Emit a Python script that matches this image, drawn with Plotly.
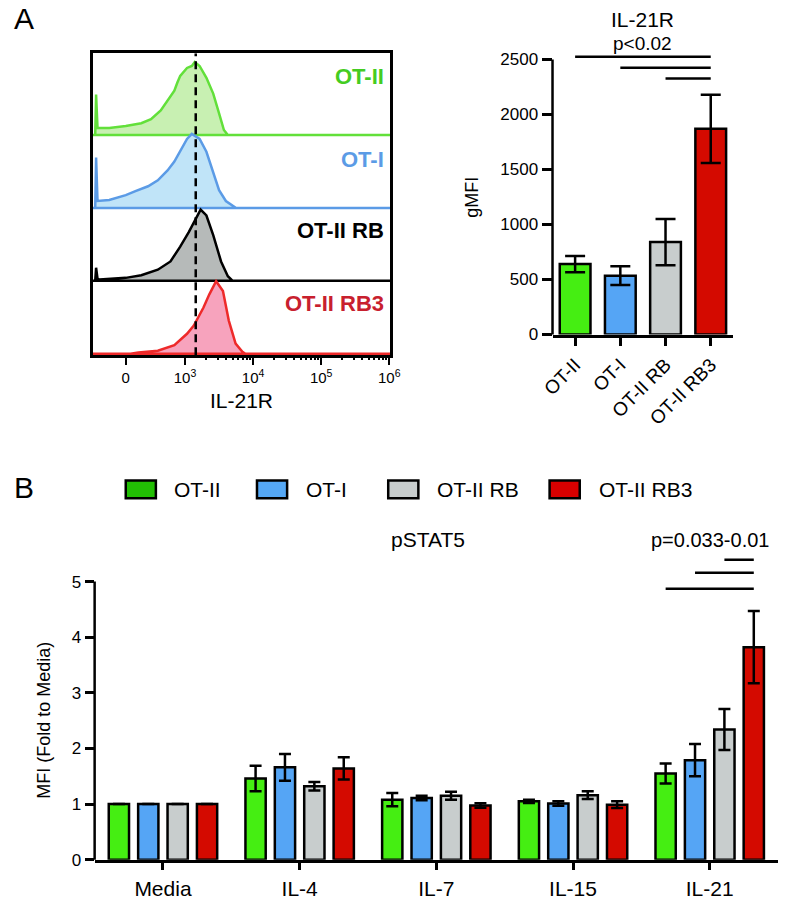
import math
import plotly.graph_objects as go

# ---------------- DATA ----------------
groups = ["OT-II", "OT-I", "OT-II RB", "OT-II RB3"]

# Panel A histograms: x in display units of the biexponential IL-21R axis
# (10^3 -> 3, 10^4 -> 4 ...), h = normalised cell count (peak ~ 1)
hist_otii_x = [1.68, 1.693, 1.714, 1.886, 2.129, 2.357, 2.5, 2.643, 2.743, 2.843, 2.886,
               2.929, 3.029, 3.1, 3.143, 3.214, 3.314, 3.414, 3.5, 3.571, 3.629]
hist_otii_h = [0, 0.554, 0.095, 0.095, 0.122, 0.162, 0.216, 0.338, 0.473, 0.608, 0.716,
               0.811, 0.919, 0.946, 1.0, 0.946, 0.784, 0.568, 0.297, 0.068, 0]
hist_oti_x = [1.68, 1.693, 1.714, 1.886, 2.129, 2.271, 2.457, 2.6, 2.743, 2.843, 2.929,
              3.029, 3.1, 3.143, 3.214, 3.314, 3.414, 3.5, 3.6, 3.7, 3.75]
hist_oti_h = [0, 0.69, 0.095, 0.108, 0.176, 0.23, 0.297, 0.378, 0.514, 0.635, 0.784,
              0.946, 1.014, 0.986, 0.946, 0.77, 0.5, 0.243, 0.095, 0.027, 0]
hist_rb_x = [1.68, 1.693, 1.714, 1.743, 2.129, 2.357, 2.6, 2.786, 2.929, 3.057, 3.143,
             3.229, 3.314, 3.414, 3.529, 3.629, 3.7]
hist_rb_h = [0, 0.18, 0.03, 0.018, 0.041, 0.077, 0.153, 0.266, 0.469, 0.672, 0.815,
             0.977, 0.896, 0.626, 0.266, 0.064, 0]
hist_rb3_x = [2.2, 2.314, 2.6, 2.843, 3.029, 3.129, 3.271, 3.357, 3.457, 3.557, 3.643,
              3.743, 3.843, 3.886]
hist_rb3_h = [0, 0.018, 0.041, 0.118, 0.274, 0.388, 0.635, 0.815, 0.995, 0.861, 0.455,
              0.139, 0.027, 0]
hist_ref_line = 3.157          # dashed reference (OT-II peak)
hist_tick_vals = [2.129, 3, 4, 5, 6]
hist_tick_text = ["0", "10<sup>3</sup>", "10<sup>4</sup>", "10<sup>5</sup>", "10<sup>6</sup>"]
hist_range = [1.643, 6.014]

# Panel A bar chart: IL-21R gMFI
il21r_gmfi = [640, 535, 840, 1870]
il21r_err = [73, 85, 210, 310]
il21r_sig_levels = [2525, 2426, 2328]      # OT-II, OT-I, OT-II RB vs OT-II RB3
il21r_ticks = [0, 500, 1000, 1500, 2000, 2500]

# Panel B: pSTAT5 (fold to media)
stimuli = ["Media", "IL-4", "IL-7", "IL-15", "IL-21"]
pstat5_otii = [1.0, 1.46, 1.08, 1.05, 1.55]
pstat5_oti = [1.0, 1.66, 1.11, 1.01, 1.79]
pstat5_rb = [1.0, 1.32, 1.15, 1.16, 2.34]
pstat5_rb3 = [1.0, 1.64, 0.975, 0.99, 3.82]
pstat5_err_otii = [0, 0.23, 0.12, 0.03, 0.18]
pstat5_err_oti = [0, 0.24, 0.04, 0.04, 0.29]
pstat5_err_rb = [0, 0.075, 0.07, 0.07, 0.37]
pstat5_err_rb3 = [0, 0.2, 0.04, 0.06, 0.65]
pstat5_sig_levels = [4.87, 5.16, 5.39]     # OT-II, OT-I, OT-II RB vs OT-II RB3 (IL-21)
pstat5_ticks = [0, 1, 2, 3, 4, 5]

# ---------------- STYLE ----------------
W, H = 790, 901
FONT = "Liberation Sans, Arial, Helvetica, sans-serif"
bar_colors = ["#45ee12", "#55a5f5", "#c8cdcd", "#d40a00"]
legend_colors = ["#22bf04", "#55a8f5", "#c8cdcd", "#d80000"]
hist_line = ["#62e03a", "#5b9be6", "#000000", "#ee2a2a"]
hist_fill = ["#c8f0b2", "#c0e4f8", "#b6bab9", "#f7a3bd"]
hist_label_col = ["#44cc22", "#5b9be6", "#000000", "#c8202e"]
LW = 2.5


def px_x(p):
    return p / W


def px_y(p):
    return 1 - p / H


fig = go.Figure()

# ---- Panel A histograms ----
hist_x = [hist_otii_x, hist_oti_x, hist_rb_x, hist_rb3_x]
hist_h = [hist_otii_h, hist_oti_h, hist_rb_h, hist_rb3_h]
baselines = [3, 2, 1, 0]
label_levels = [3.8, 2.67, 1.69, 0.69]
for i in range(4):
    b = baselines[i]
    xs = [hist_range[0]] + hist_x[i] + [hist_range[1], hist_range[0]]
    ys = [b] + [b + v for v in hist_h[i]] + [b, b]
    fig.add_trace(go.Scatter(x=xs, y=ys, mode="lines", fill="toself",
                             fillcolor=hist_fill[i],
                             line=dict(color=hist_line[i], width=LW),
                             xaxis="x", yaxis="y", showlegend=False, hoverinfo="skip"))

hy_range = [-0.02, 4.12]
fig.add_trace(go.Scatter(x=[hist_ref_line, hist_ref_line], y=hy_range, mode="lines",
                         line=dict(color="black", width=2.5, dash="8px,5px"),
                         xaxis="x", yaxis="y", showlegend=False, hoverinfo="skip"))
# dummy trace for minor-tick overlay axis
fig.add_trace(go.Scatter(x=[hist_range[0]], y=[hy_range[0]], mode="markers",
                         marker=dict(opacity=0), xaxis="x4", yaxis="y",
                         showlegend=False, hoverinfo="skip"))

minor_ticks = [math.log10(k * 10 ** n) for n in (3, 4, 5) for k in range(2, 10)]

# ---- Panel A bar chart ----
fig.add_trace(go.Bar(x=groups, y=il21r_gmfi, width=0.68,
                     marker=dict(color=bar_colors, line=dict(color="black", width=LW)),
                     error_y=dict(type="data", array=il21r_err, color="black",
                                  thickness=2.5, width=10),
                     xaxis="x2", yaxis="y2", showlegend=False))

# ---- Panel B grouped bars ----
pstat5_vals = [pstat5_otii, pstat5_oti, pstat5_rb, pstat5_rb3]
pstat5_errs = [pstat5_err_otii, pstat5_err_oti, pstat5_err_rb, pstat5_err_rb3]
for k in range(4):
    fig.add_trace(go.Bar(x=stimuli, y=pstat5_vals[k], name=groups[k],
                         marker=dict(color=bar_colors[k], line=dict(color="black", width=LW)),
                         error_y=dict(type="data", array=pstat5_errs[k], color="black",
                                      thickness=2.5, width=6),
                         xaxis="x3", yaxis="y3", showlegend=False))

BARGAP = 0.14

# ---- domains ----
hx_dom = [px_x(83), px_x(389)]
hy_dom = [px_y(358), px_y(52)]
tx_dom = [px_x(556), px_x(742)]
ty_range = [0, 2560]
ty_dom = [px_y(337), px_y(51.6)]
ty_line_dom = [ty_dom[0], ty_dom[0] + (il21r_ticks[-1] / ty_range[1]) * (ty_dom[1] - ty_dom[0])]
bx_dom = [px_x(85), px_x(788)]
by_range = [0, 5.45]
by_dom = [px_y(869.3), px_y(562)]
by_line_dom = [by_dom[0], by_dom[0] + (pstat5_ticks[-1] / by_range[1]) * (by_dom[1] - by_dom[0])]

axis_common = dict(showgrid=False, zeroline=False, color="black")

layout = dict(
    width=W, height=H, margin=dict(l=0, r=0, t=0, b=0),
    paper_bgcolor="white", plot_bgcolor="rgba(0,0,0,0)",
    font=dict(family=FONT, color="black"),
    barmode="group", bargap=BARGAP, bargroupgap=0.31,
    showlegend=False,
    xaxis=dict(domain=hx_dom, range=hist_range, anchor="y", tickmode="array",
               tickvals=hist_tick_vals, ticktext=hist_tick_text, ticks="outside",
               ticklen=7, tickwidth=2, tickcolor="black", showline=True, mirror=True,
               linewidth=LW, linecolor="black", tickfont=dict(size=15), **axis_common),
    xaxis4=dict(domain=hx_dom, range=hist_range, anchor="y", overlaying="x",
                tickmode="array", tickvals=minor_ticks, ticks="outside", ticklen=4,
                tickwidth=1.5, tickcolor="black", showticklabels=False, showline=False,
                **axis_common),
    yaxis=dict(domain=hy_dom, range=hy_range, anchor="x", showticklabels=False, ticks="",
               showline=True, mirror=True, linewidth=LW, linecolor="black", **axis_common),
    xaxis2=dict(domain=tx_dom, anchor="y2", type="category",
                ticks="outside", ticklen=9, tickwidth=LW, tickcolor="black",
                tickangle=-45, tickfont=dict(size=19), showline=True, linewidth=LW,
                linecolor="black", **axis_common),
    yaxis2=dict(domain=ty_dom, anchor="x2", range=ty_range, tickmode="array",
                tickvals=il21r_ticks, ticks="outside", ticklen=10, tickwidth=LW,
                tickcolor="black", tickfont=dict(size=17), showline=False, **axis_common),
    xaxis3=dict(domain=bx_dom, anchor="y3", type="category",
                ticks="outside", ticklen=8, tickwidth=LW, tickcolor="black",
                tickfont=dict(size=21), showline=True, linewidth=LW, linecolor="black",
                **axis_common),
    yaxis3=dict(domain=by_dom, anchor="x3", range=by_range, tickmode="array",
                tickvals=pstat5_ticks, ticks="outside", ticklen=9, tickwidth=LW,
                tickcolor="black", tickfont=dict(size=17), showline=False, **axis_common),
)

shapes = []
# y-axis lines that stop at the top tick
shapes.append(dict(type="line", xref="x2 domain", yref="paper", x0=0, x1=0,
                   y0=ty_line_dom[0], y1=ty_line_dom[1], line=dict(color="black", width=LW)))
shapes.append(dict(type="line", xref="x3 domain", yref="paper", x0=0, x1=0,
                   y0=by_line_dom[0], y1=by_line_dom[1], line=dict(color="black", width=LW)))
# significance bars, panel A
for i, lvl in enumerate(il21r_sig_levels):
    shapes.append(dict(type="line", xref="x2", yref="y2", x0=i, x1=3, y0=lvl, y1=lvl,
                       line=dict(color="black", width=LW)))
# significance bars, panel B (bar centres within the IL-21 group)
slot = (1 - BARGAP) / 4


def bar_center(cat, k):
    return cat - (1 - BARGAP) / 2 + (k + 0.5) * slot


il21_idx = stimuli.index("IL-21")
for k, lvl in enumerate(pstat5_sig_levels):
    shapes.append(dict(type="line", xref="x3", yref="y3",
                       x0=bar_center(il21_idx, k), x1=bar_center(il21_idx, 3),
                       y0=lvl, y1=lvl, line=dict(color="black", width=LW)))

annotations = []
# custom legend for panel B
leg_box_x = [117, 252, 387, 553]
leg_txt_x = [165, 300, 435, 602]
for k in range(4):
    shapes.append(dict(type="rect", xref="paper", yref="paper",
                       x0=px_x(leg_box_x[k]), x1=px_x(leg_box_x[k] + 31),
                       y0=px_y(503), y1=px_y(485), fillcolor=legend_colors[k],
                       line=dict(color="black", width=LW)))
    annotations.append(dict(text=groups[k], xref="paper", yref="paper",
                            x=px_x(leg_txt_x[k]), y=px_y(494), xanchor="left",
                            yanchor="middle", showarrow=False, font=dict(size=21)))

# histogram labels
for i in range(4):
    annotations.append(dict(text="<b>%s</b>" % groups[i], xref="x domain", yref="y",
                            x=0.985, y=label_levels[i], xanchor="right", yanchor="middle",
                            showarrow=False, font=dict(size=22, color=hist_label_col[i])))

annotations += [
    dict(text="A", xref="paper", yref="paper", x=px_x(0), y=px_y(17), xanchor="left",
         yanchor="middle", showarrow=False, font=dict(size=30)),
    dict(text="B", xref="paper", yref="paper", x=px_x(0), y=px_y(492), xanchor="left",
         yanchor="middle", showarrow=False, font=dict(size=30)),
    dict(text="IL-21R", xref="x domain", yref="paper", x=0.5, y=px_y(404),
         xanchor="center", yanchor="middle", showarrow=False, font=dict(size=21)),
    dict(text="IL-21R", xref="x2", yref="paper", x=1.5, y=px_y(18),
         xanchor="center", yanchor="middle", showarrow=False, font=dict(size=21)),
    dict(text="p<0.02", xref="x2", yref="paper", x=1.5, y=px_y(42),
         xanchor="center", yanchor="middle", showarrow=False, font=dict(size=19)),
    dict(text="gMFI", xref="paper", yref="y2", x=px_x(473), y=il21r_ticks[-1] / 2,
         xanchor="center", yanchor="middle", textangle=-90, showarrow=False,
         font=dict(size=18)),
    dict(text="pSTAT5", xref="paper", yref="paper", x=px_x(428), y=px_y(545),
         xanchor="center", yanchor="middle", showarrow=False, font=dict(size=21)),
    dict(text="p=0.033-0.01", xref="x3", yref="paper", x=il21_idx, y=px_y(545),
         xanchor="center", yanchor="middle", showarrow=False, font=dict(size=20)),
    dict(text="MFI (Fold to Media)", xref="paper", yref="y3", x=px_x(33),
         y=pstat5_ticks[-1] / 2, xanchor="center", yanchor="middle", textangle=-90,
         showarrow=False, font=dict(size=18)),
]

layout["shapes"] = shapes
layout["annotations"] = annotations
fig.update_layout(**layout)
fig.write_html("out.html", config={"displayModeBar": False},
               post_script="document.body.style.margin='0';document.body.style.padding='0';")
